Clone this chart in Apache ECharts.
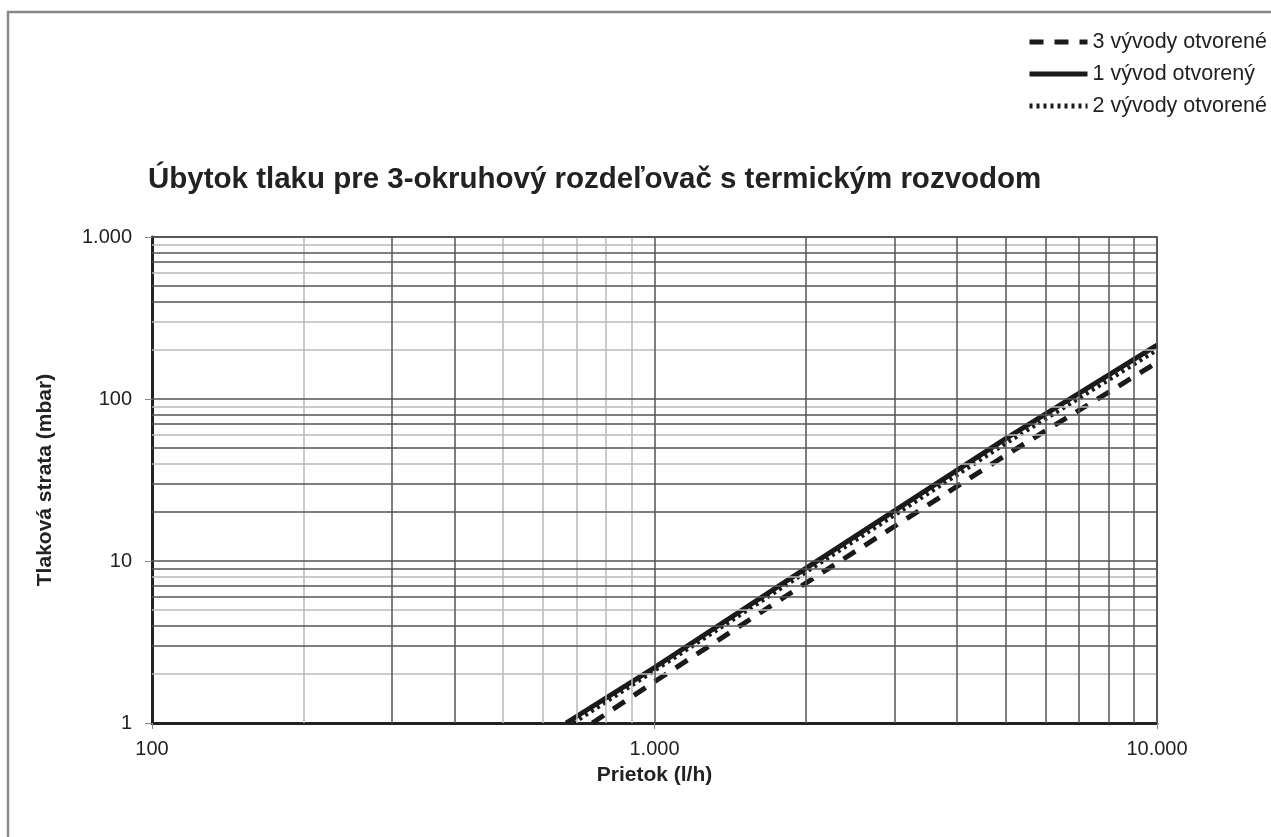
<!DOCTYPE html>
<html>
<head>
<meta charset="utf-8">
<script src="https://cdn.jsdelivr.net/npm/echarts@6/dist/echarts.min.js"></script>
<style>
  html, body { margin: 0; padding: 0; background: #fff; }
  #chart { width: 1271px; height: 837px; }
</style>
</head>
<body>
<div id="chart"></div>
<script>
// ---------------------------------------------------
// Datos (Prietok l/h, Tlaková strata mbar)
// ---------------------------------------------------
const seriesNames = ["3 vývody otvorené", "1 vývod otvorený", "2 vývody otvorené"];

const dataTri = [[752, 1], [1000, 1.8], [2000, 7.3], [5000, 45], [10000, 168]];
const dataJeden = [[667, 1], [1000, 2.2], [2000, 9], [5000, 57], [10000, 215]];
const dataDva = [[690, 1], [1000, 2.1], [2000, 8.5], [5000, 53], [10000, 200]];

// čiary mriežky
const xGridDark = [300, 400, 1000, 2000, 3000, 4000, 5000, 6000, 7000, 8000, 9000, 10000];
const xGridLight = [200, 500, 600, 700, 800, 900];
const yGridDark = [3, 4, 6, 7, 9, 10, 20, 30, 50, 70, 80, 100, 400, 500, 700, 800, 1000];
const yGridLight = [2, 5, 8, 40, 60, 90, 200, 300, 600, 900];

const fmt = function (v) {
  return String(Math.round(v)).replace(/\B(?=(\d{3})+(?!\d))/g, ".");
};

const chart = echarts.init(document.getElementById("chart"));

const gridLines = []
  .concat(xGridLight.map(v => ({ xAxis: v, lineStyle: { color: "#b8b8b8", width: 1.5, type: "solid" } })))
  .concat(yGridLight.map(v => ({ yAxis: v, lineStyle: { color: "#b8b8b8", width: 1.5, type: "solid" } })))
  .concat(xGridDark.map(v => ({ xAxis: v, lineStyle: { color: "#555", width: 1.5, type: "solid" } })))
  .concat(yGridDark.map(v => ({ yAxis: v, lineStyle: { color: "#555", width: 1.5, type: "solid" } })));

const option = {
  animation: false,
  backgroundColor: "#fff",
  textStyle: { fontFamily: "Liberation Sans, Arial, sans-serif" },
  title: {
    text: "Úbytok tlaku pre 3-okruhový rozdeľovač s termickým rozvodom",
    left: 143,
    top: 160,
    textStyle: { fontSize: 29.5, fontWeight: "bold", color: "#222", fontFamily: "Liberation Sans, Arial, sans-serif" }
  },
  legend: {
    data: seriesNames,
    orient: "vertical",
    left: 1022,
    top: 26,
    itemWidth: 58,
    itemHeight: 20,
    itemGap: 10,
    itemStyle: { opacity: 0 },
    lineStyle: { width: 5 },
    textStyle: { fontSize: 21.5, color: "#222", fontFamily: "Liberation Sans, Arial, sans-serif" }
  },
  grid: {
    left: 152,
    right: 114,
    top: 237,
    bottom: 114,
    show: true,
    borderColor: "#333",
    borderWidth: 1.5
  },
  xAxis: {
    type: "log",
    logBase: 10,
    min: 100,
    max: 10000,
    name: "Prietok (l/h)",
    nameLocation: "middle",
    nameGap: 42,
    nameTextStyle: { fontSize: 21, fontWeight: "bold", color: "#222" },
    axisLine: { show: true, lineStyle: { color: "#222", width: 3 } },
    axisTick: { show: true, length: 6, lineStyle: { color: "#888", width: 1 } },
    axisLabel: { fontSize: 20, color: "#222", margin: 16, formatter: fmt },
    splitLine: { show: false }
  },
  yAxis: {
    type: "log",
    logBase: 10,
    min: 1,
    max: 1000,
    name: "Tlaková strata (mbar)",
    nameLocation: "middle",
    nameGap: 96,
    nameTextStyle: { fontSize: 21, fontWeight: "bold", color: "#222" },
    axisLine: { show: true, lineStyle: { color: "#222", width: 3 } },
    axisTick: { show: true, length: 7, lineStyle: { color: "#888", width: 1 } },
    axisLabel: { fontSize: 20, color: "#222", margin: 20, formatter: fmt },
    splitLine: { show: false }
  },
  series: [
    {
      name: "mriezka",
      type: "line",
      data: [],
      silent: true,
      z: 1,
      markLine: {
        silent: true,
        symbol: ["none", "none"],
        label: { show: false },
        animation: false,
        data: gridLines
      }
    },
    {
      name: seriesNames[0],
      type: "line",
      data: dataTri,
      showSymbol: false,
      symbol: "none",
      z: 3,
      lineStyle: { color: "#1a1a1a", width: 5, type: [14, 11] },
      itemStyle: { color: "#1a1a1a" }
    },
    {
      name: seriesNames[1],
      type: "line",
      data: dataJeden,
      showSymbol: false,
      symbol: "none",
      z: 4,
      lineStyle: { color: "#1a1a1a", width: 5, type: "solid" },
      itemStyle: { color: "#1a1a1a" }
    },
    {
      name: seriesNames[2],
      type: "line",
      data: dataDva,
      showSymbol: false,
      symbol: "none",
      z: 3,
      lineStyle: { color: "#1a1a1a", width: 4, type: [3, 4] },
      itemStyle: { color: "#1a1a1a" }
    }
  ],
  graphic: [
    {
      type: "polyline",
      silent: true,
      shape: { points: [[8, 837], [8, 12], [1271, 12]] },
      style: { stroke: "#888", lineWidth: 2.5, fill: null }
    }
  ]
};

chart.setOption(option);
</script>
</body>
</html>
